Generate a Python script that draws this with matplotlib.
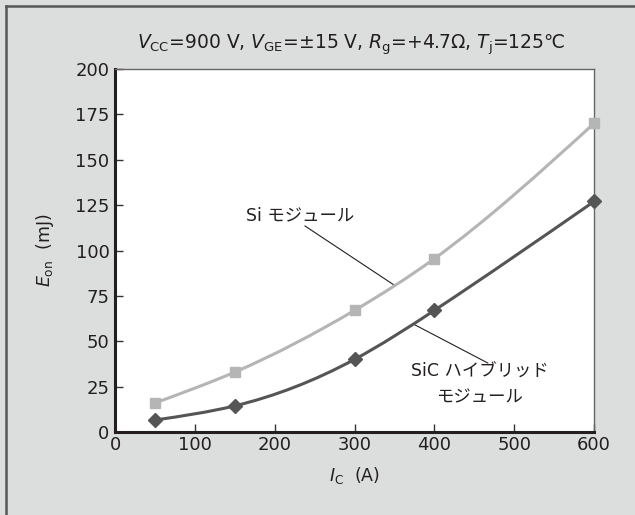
import matplotlib
matplotlib.use("Agg")
import matplotlib.pyplot as plt
from matplotlib.path import Path
from matplotlib.patches import PathPatch
from matplotlib.lines import Line2D
import numpy as np

plt.rcParams['font.family'] = ['DejaVu Sans', 'Noto Sans CJK JP']
plt.rcParams['mathtext.fontset'] = 'dejavusans'

# Data
ic = [50, 150, 300, 400, 600]
si_eon = [16, 33, 67, 95.5, 170]
sic_eon = [6.6, 14.4, 40, 67, 127]
xticks = [0, 100, 200, 300, 400, 500, 600]
yticks = [0, 25, 50, 75, 100, 125, 150, 175, 200]

BG = '#dcdedd'
SI_COL = '#b5b5b5'
SIC_COL = '#555555'
TXT = '#231f20'


def spline_slopes(x, y):
    # natural cubic spline first derivatives at knots
    x = np.asarray(x, float); y = np.asarray(y, float)
    n = len(x)
    h = np.diff(x)
    A = np.zeros((n, n)); b = np.zeros(n)
    A[0, 0] = 1; A[-1, -1] = 1
    for i in range(1, n - 1):
        A[i, i - 1] = h[i - 1]
        A[i, i] = 2 * (h[i - 1] + h[i])
        A[i, i + 1] = h[i]
        b[i] = 6 * ((y[i + 1] - y[i]) / h[i] - (y[i] - y[i - 1]) / h[i - 1])
    M = np.linalg.solve(A, b)
    m = np.zeros(n)
    for i in range(n - 1):
        m[i] = (y[i + 1] - y[i]) / h[i] - h[i] * (2 * M[i] + M[i + 1]) / 6
    m[-1] = (y[-1] - y[-2]) / h[-1] + h[-1] * (M[-2] + 2 * M[-1]) / 6
    return m


def smooth_path(xs, ys):
    x = np.asarray(xs, float); y = np.asarray(ys, float)
    m = spline_slopes(x, y)
    verts = [(x[0], y[0])]
    codes = [Path.MOVETO]
    for i in range(len(x) - 1):
        h = x[i + 1] - x[i]
        verts += [(x[i] + h / 3, y[i] + m[i] * h / 3),
                  (x[i + 1] - h / 3, y[i + 1] - m[i + 1] * h / 3),
                  (x[i + 1], y[i + 1])]
        codes += [Path.CURVE4] * 3
    return Path(verts, codes)


fig = plt.figure(figsize=(6.35, 5.15), dpi=100, facecolor=BG)
ax = fig.add_axes([115 / 635, 1 - 432 / 515, (594 - 115) / 635, (432 - 69) / 515])
ax.set_facecolor('white')
ax.set_xlim(0, 600)
ax.set_ylim(0, 200)

for xs, ys, col, mk in [(ic, si_eon, SI_COL, 's'), (ic, sic_eon, SIC_COL, 'D')]:
    ax.add_patch(PathPatch(smooth_path(xs, ys), facecolor='none', edgecolor=col, lw=2.2, zorder=3))
    ax.plot(xs, ys, linestyle='none', marker=mk, color=col, markersize=7.5, zorder=4, clip_on=False)

ax.set_xticks(xticks)
ax.set_yticks(yticks)
ax.tick_params(direction='in', length=6, width=1, color='#333333', labelsize=13,
               labelcolor=TXT, top=False, right=False)
ax.tick_params(axis='x', pad=3)
ax.tick_params(axis='y', pad=4)
for s in ['left', 'bottom']:
    ax.spines[s].set_linewidth(2.2)
    ax.spines[s].set_color(TXT)
for s in ['top', 'right']:
    ax.spines[s].set_linewidth(1.0)
    ax.spines[s].set_color('#666666')

ax.set_xlabel(r'$I_{\mathrm{C}}$  (A)', fontsize=12.5, color=TXT, labelpad=8)
ax.set_ylabel(r'$E_{\mathrm{on}}$  (mJ)', fontsize=12.5, color=TXT, labelpad=14)

fig.text(351 / 635, 1 - 45 / 515,
         r'$V_{\mathrm{CC}}$=900 V, $V_{\mathrm{GE}}$=±15 V, $R_{\mathrm{g}}$=+4.7Ω, $T_{\mathrm{j}}$=125℃',
         ha='center', va='center', fontsize=13.5, color=TXT)

# Annotations
ax.text(232, 119.6, 'Si モジュール', ha='center', va='center', fontsize=12.5, color=TXT)
ax.plot([238, 349.5], [113.5, 81], color=TXT, lw=0.8, zorder=2)
ax.text(457, 33, 'SiC ハイブリッド', ha='center', va='center', fontsize=12.5, color=TXT)
ax.text(457, 19.3, 'モジュール', ha='center', va='center', fontsize=12.5, color=TXT)
ax.plot([375.8, 467], [59, 38], color=TXT, lw=0.8, zorder=2)

# Figure border (top & left)
fig.add_artist(Line2D([6 / 635, 6 / 635], [0, 1 - 6 / 515], transform=fig.transFigure,
                      color='#555555', lw=1.8))
fig.add_artist(Line2D([6 / 635, 1], [1 - 6 / 515, 1 - 6 / 515], transform=fig.transFigure,
                      color='#555555', lw=1.8))

fig.savefig('out.png', dpi=100, facecolor=BG)
